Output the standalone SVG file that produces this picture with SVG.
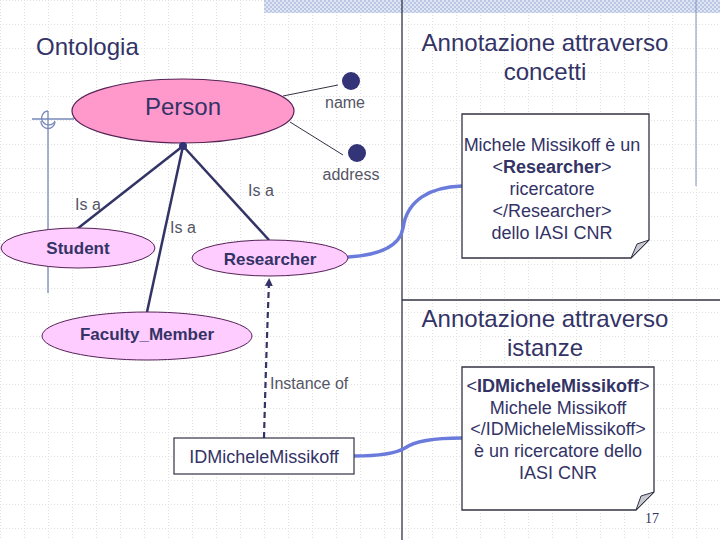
<svg xmlns="http://www.w3.org/2000/svg" width="720" height="540" viewBox="0 0 720 540">
<defs>
<pattern id="grid" width="24" height="24" patternUnits="userSpaceOnUse">
<path d="M0,0.5 H24 M0.5,0 V24" fill="none" stroke="#e0e0e0" stroke-width="1" stroke-dasharray="1 2"/>
</pattern>
<pattern id="dither" width="4" height="4" patternUnits="userSpaceOnUse">
<rect width="4" height="4" fill="#dfe5f3"/>
<rect width="2" height="2" fill="#b9c6e4"/>
<rect x="2" y="2" width="2" height="2" fill="#b9c6e4"/>
</pattern>
<marker id="arr" markerWidth="8" markerHeight="8" refX="4" refY="4" orient="auto" markerUnits="userSpaceOnUse">
<path d="M0,0 L8,4 L0,8 Z" fill="#333366"/>
</marker>
<style>
text{font-family:"Liberation Sans",Arial,sans-serif;fill:#333366}
.h{font-size:24px}
.lbl{font-size:16px;fill:#555566}
.cls{font-size:17px;font-weight:bold;text-anchor:middle}
.note{font-size:18px;text-anchor:middle}
.isa{stroke:#333366;stroke-width:2.5;fill:none}
.attr{stroke:#333344;stroke-width:1;fill:none}
.link{stroke:#6a7bdc;stroke-width:3.5;fill:none}
.sub{fill:#ffccff;stroke:#552255;stroke-width:1}
.dot{fill:#333377}
.box{fill:#ffffff;stroke:#333344;stroke-width:1.3}
.fold{fill:#c8c8d0;stroke:#333344;stroke-width:1}
</style>
</defs>
<rect width="720" height="540" fill="#ffffff"/>
<rect width="720" height="540" fill="url(#grid)"/>
<rect x="264" y="0" width="456" height="13" fill="url(#dither)"/>
<!-- frame lines -->
<line x1="402" y1="0" x2="402" y2="540" stroke="#333344" stroke-width="1.3"/>
<line x1="402" y1="300" x2="720" y2="300" stroke="#333344" stroke-width="1.3"/>
<line x1="696" y1="0" x2="696" y2="186" stroke="#8090b8" stroke-width="1"/>
<!-- left decoration -->
<g id="decoration" stroke="#7788bb" stroke-width="1.3" fill="none">
<line x1="32" y1="119" x2="74" y2="119"/>
<line x1="48" y1="111" x2="48" y2="293"/>
<path d="M55,121 A7,7 0 1 1 48,111"/>
<path d="M41,121 A7,7 0 0 0 55,122"/>
</g>
<!-- headings -->
<text class="h" x="36" y="55">Ontologia</text>
<text class="h" x="545" y="51" text-anchor="middle">Annotazione attraverso</text>
<text class="h" x="545" y="80" text-anchor="middle">concetti</text>
<text class="h" x="545" y="327" text-anchor="middle">Annotazione attraverso</text>
<text class="h" x="545" y="356" text-anchor="middle">istanze</text>
<!-- connectors -->
<g id="connectors">
<line class="isa" x1="183" y1="146" x2="77" y2="229"/>
<line class="isa" x1="183" y1="146" x2="147" y2="312"/>
<line class="isa" x1="183" y1="146" x2="269" y2="240"/>
<line class="attr" x1="283" y1="96" x2="338" y2="85"/>
<line class="attr" x1="290" y1="122" x2="343" y2="155"/>
<path d="M264,438 Q266,360 269,282" stroke="#333366" stroke-width="2.2" fill="none" stroke-dasharray="6 4" marker-end="url(#arr)"/>
<path class="link" d="M348,257 C380,255 400,246 403,228 C407,200 430,187 462,186"/>
<path class="link" d="M354,456 C380,456 395,454 405,448 C416,440 440,438 462,438"/>
<text class="lbl" x="75" y="210">Is a</text>
<text class="lbl" x="170" y="233">Is a</text>
<text class="lbl" x="248" y="196">Is a</text>
<text class="lbl" x="270" y="389">Instance of</text>
</g>
<!-- Person -->
<g id="person">
<ellipse cx="183" cy="111" rx="111" ry="32" fill="#ff99cc" stroke="#552255" stroke-width="1.2"/>
<text x="183" y="115" font-size="24" text-anchor="middle">Person</text>
<circle class="dot" cx="183" cy="146" r="4"/>
</g>
<g id="name">
<circle class="dot" cx="351" cy="81" r="9"/>
<text class="lbl" x="345" y="108" text-anchor="middle">name</text>
</g>
<g id="address">
<circle class="dot" cx="357" cy="153" r="9"/>
<text class="lbl" x="351" y="180" text-anchor="middle">address</text>
</g>
<g id="student">
<ellipse class="sub" cx="78" cy="248" rx="77" ry="20"/>
<text class="cls" x="78" y="254">Student</text>
</g>
<g id="researcher">
<ellipse class="sub" cx="270" cy="258" rx="78" ry="18"/>
<text class="cls" x="270" y="265">Researcher</text>
</g>
<g id="faculty">
<ellipse class="sub" cx="147" cy="336" rx="105" ry="24"/>
<text class="cls" x="147" y="340">Faculty_Member</text>
</g>
<g id="instance">
<rect x="174" y="438" width="180" height="36" fill="#ffffff" stroke="#333344" stroke-width="1.2"/>
<text x="264" y="463" font-size="18" text-anchor="middle">IDMicheleMissikoff</text>
</g>
<g id="note1">
<path class="box" d="M462,114 H649 V240 L631,258 H462 Z"/>
<path class="fold" d="M649,240 L631,258 L637,244 Z"/>
<text class="note" x="552" y="151">Michele Missikoff è un</text>
<text class="note" x="552" y="173">&lt;<tspan font-weight="bold">Researcher</tspan>&gt;</text>
<text class="note" x="552" y="195">ricercatore</text>
<text class="note" x="552" y="217">&lt;/Researcher&gt;</text>
<text class="note" x="552" y="239">dello IASI CNR</text>
</g>
<g id="note2">
<path class="box" d="M462,367 H654 V492 L636,510 H462 Z"/>
<path class="fold" d="M654,492 L636,510 L641,496 Z"/>
<text class="note" x="558" y="392">&lt;<tspan font-weight="bold">IDMicheleMissikoff</tspan>&gt;</text>
<text class="note" x="558" y="414">Michele Missikoff</text>
<text class="note" x="558" y="435">&lt;/IDMicheleMissikoff&gt;</text>
<text class="note" x="558" y="457">è un ricercatore dello</text>
<text class="note" x="558" y="479">IASI CNR</text>
</g>
<text x="652" y="523" font-size="14" style="font-family:'Liberation Serif',serif" text-anchor="middle">17</text>
</svg>
